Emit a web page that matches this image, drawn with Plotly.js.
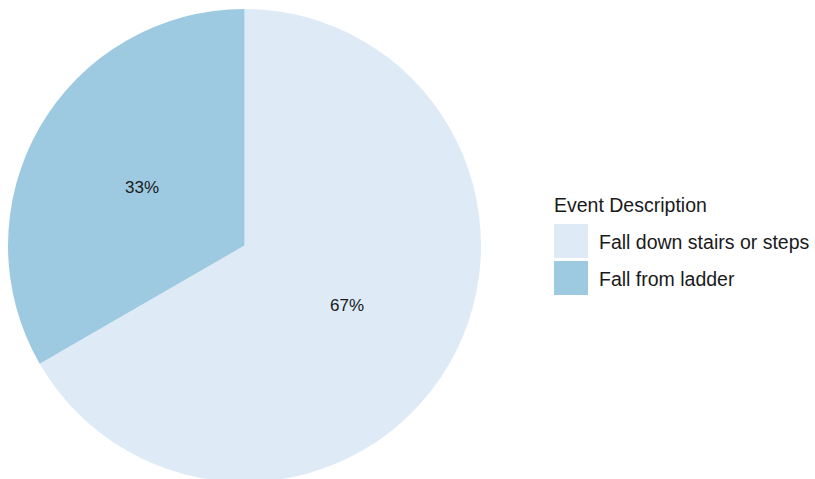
<!DOCTYPE html>
<html>
<head>
<meta charset="utf-8">
<script src="https://cdn.plot.ly/plotly-3.0.1.min.js"></script>
<style>html,body{margin:0;padding:0;overflow:hidden;background:#fff;}</style>
</head>
<body>
<div id="chart" style="width:815px;height:484px;"></div>
<script>
const categories = ["Fall down stairs or steps", "Fall from ladder"];
const values = [2, 1];
const colors = ["#deebf7", "#9ecae1"];
const legendTitle = "Event Description";

const W = 815, H = 484;
const px = x => x / W;
const py = y => 1 - y / H;

const font = "Liberation Sans, Arial, sans-serif";

// pie geometry (pixels)
const pieL = 8, pieR = 481, pieT = 9, pieB = 482;
const cx = (pieL + pieR) / 2, cy = (pieT + pieB) / 2;
const R = Math.min(pieR - pieL, pieB - pieT) / 2;

const shapes = [];
const annotations = [{
  xref: "paper", yref: "paper", x: px(552), y: py(205),
  xanchor: "left", yanchor: "middle", showarrow: false,
  text: legendTitle, font: {family: font, size: 19.5, color: "#1a1a1a"}
}];
categories.forEach((c, i) => {
  const top = 224 + i * 37;
  shapes.push({
    type: "rect", xref: "paper", yref: "paper",
    x0: px(554), x1: px(588), y0: py(top), y1: py(top + 34),
    fillcolor: colors[i], line: {width: 0}
  });
  annotations.push({
    xref: "paper", yref: "paper", x: px(597), y: py(top + 18),
    xanchor: "left", yanchor: "middle", showarrow: false,
    text: c, font: {family: font, size: 19.5, color: "#1a1a1a"}
  });
});

// percentage labels at half radius of each slice's mid-angle (from data)
const total = values.reduce((a, b) => a + b, 0);
let cum = 0;
values.forEach((v, i) => {
  const mid = (cum + v / 2) / total * 2 * Math.PI;
  cum += v;
  const x = cx + 0.5 * R * Math.sin(mid);
  const y = cy - 0.5 * R * Math.cos(mid);
  annotations.push({
    xref: "paper", yref: "paper", x: px(x), y: py(y + 1),
    xanchor: "center", yanchor: "middle", showarrow: false,
    text: Math.round(v / total * 100) + "%",
    font: {family: font, size: 17, color: "#1a1a1a"}
  });
});

const trace = {
  type: "pie",
  labels: categories,
  values: values,
  sort: false,
  direction: "clockwise",
  rotation: 0,
  marker: {colors: colors, line: {width: 0}},
  textinfo: "none",
  hoverinfo: "label+percent",
  domain: {x: [px(pieL), px(pieR)], y: [py(pieB), py(pieT)]},
  showlegend: false
};

Plotly.newPlot("chart", [trace], {
  width: W, height: H,
  margin: {l: 0, r: 0, t: 0, b: 0},
  paper_bgcolor: "#fff",
  showlegend: false,
  shapes: shapes,
  annotations: annotations
}, {displayModeBar: false, staticPlot: true});
</script>
</body>
</html>
